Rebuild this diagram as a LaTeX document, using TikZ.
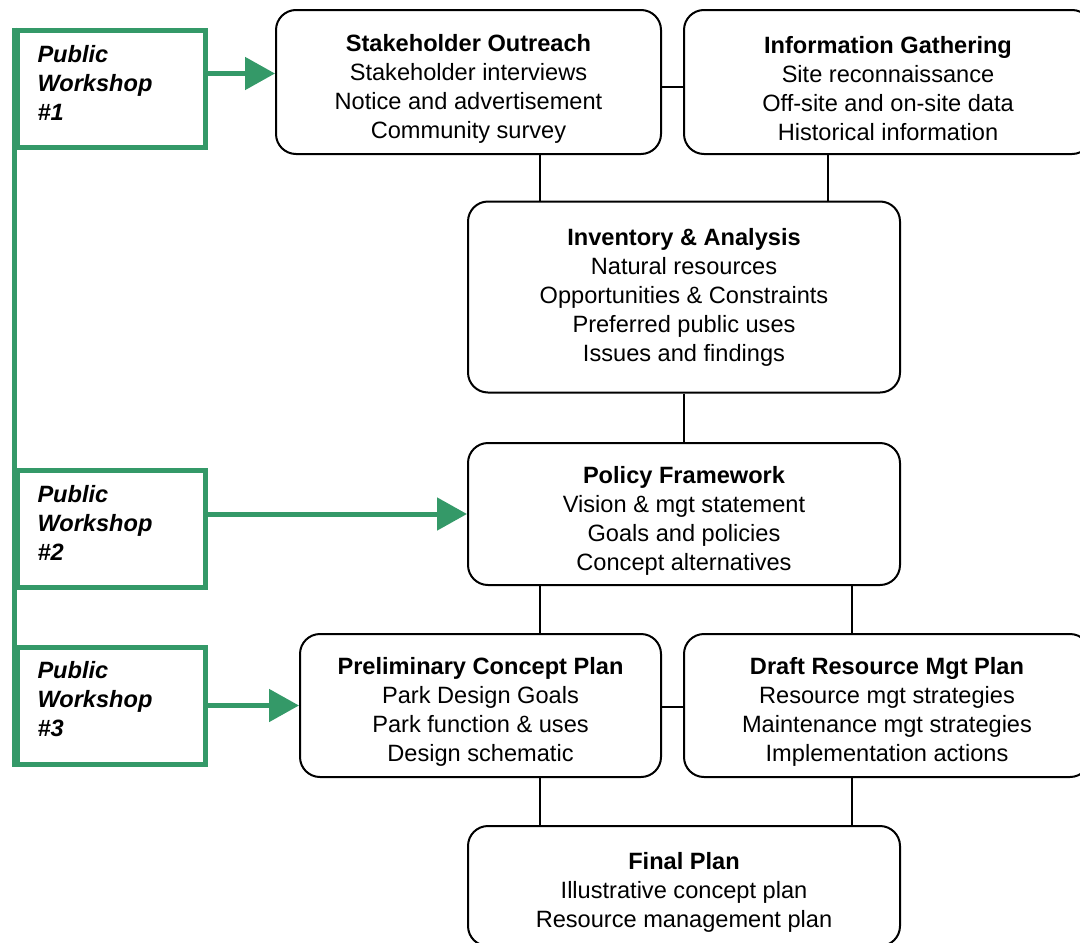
\documentclass[tikz,border=0pt]{standalone}
\usepackage{fontspec}
\setmainfont{Liberation Sans}
\usepackage{tikz}
\usetikzlibrary{positioning, arrows.meta, calc}
\definecolor{ws-green}{RGB}{52,153,104}

% title line of a stage, with a little extra room above
\newcommand{\stagetitle}[1]{\rule{0pt}{15pt}\textbf{#1}}

\tikzset{
  stage/.style={draw, line width=1pt, rounded corners=10pt, align=center,
    font=\fontsize{11.8}{14.5}\selectfont, inner sep=0pt},
  workshop/.style={draw=ws-green, line width=2.5pt, align=left, anchor=north west,
    font=\fontsize{11.8}{14.5}\selectfont\bfseries\itshape,
    minimum width=94pt, minimum height=58.5pt, text width=73.5pt,
    inner xsep=9.75pt, inner ysep=0pt,
    execute at end node={\par\vspace{6pt}}},
  link/.style={line width=0.75pt},
  wsarrow/.style={ws-green, line width=2.5pt, -{Triangle[length=15pt,width=16pt]}}
}

\begin{document}
\begin{tikzpicture}[x=0.5pt, y=-0.5pt]
	\useasboundingbox (0,0) rectangle (1080,942);
	\clip (0,0) rectangle (1080,942);

	% stages
	\node[stage, minimum width=192.5pt, minimum height=72pt] at (468.5,82) (stake)
		{\stagetitle{Stakeholder Outreach}\\Stakeholder interviews\\Notice and advertisement\\Community survey};
	\node[stage, minimum width=204pt, minimum height=72pt] at (888,82) (info)
		{\stagetitle{Information Gathering}\\Site reconnaissance\\Off-site and on-site data\\Historical information};
	\node[stage, minimum width=216pt, minimum height=95.5pt] at (684,297) (inv)
		{\textbf{Inventory \& Analysis}\\Natural resources\\Opportunities \& Constraints\\Preferred public uses\\Issues and findings};
	\node[stage, minimum width=216pt, minimum height=71pt] at (684,514) (pol)
		{\stagetitle{Policy Framework}\\Vision \& mgt statement\\Goals and policies\\Concept alternatives};
	\node[stage, minimum width=180.5pt, minimum height=71.5pt] at (480.5,705.5) (prel)
		{\stagetitle{Preliminary Concept Plan}\\Park Design Goals\\Park function \& uses\\Design schematic};
	\node[stage, minimum width=203pt, minimum height=71.5pt] at (887,705.5) (draft)
		{\stagetitle{Draft Resource Mgt Plan}\\Resource mgt strategies\\Maintenance mgt strategies\\Implementation actions};
	\node[stage, minimum width=216pt, minimum height=60pt] at (684,886) (final)
		{\stagetitle{Final Plan}\\Illustrative concept plan\\Resource management plan};

	% lanes for the vertical links
	\coordinate (laneA) at (540,0);
	\coordinate (laneB) at (828,0);
	\coordinate (laneC) at (852,0);

	\draw[link] ([yshift=-2.5pt]stake.east) -- ([yshift=-2.5pt]info.west);
	\draw[link] (stake.south -| laneA) -- (inv.north -| laneA);
	\draw[link] (info.south -| laneB) -- (inv.north -| laneB);
	\draw[link] (inv.south) -- (pol.north);
	\draw[link] (pol.south -| laneA) -- (prel.north -| laneA);
	\draw[link] (pol.south -| laneC) -- (draft.north -| laneC);
	\draw[link] ([yshift=-0.75pt]prel.east) -- ([yshift=-0.75pt]draft.west);
	\draw[link] (prel.south -| laneA) -- (final.north -| laneA);
	\draw[link] (draft.south -| laneC) -- (final.north -| laneC);

	% public workshops
	\node[workshop] at (14.5,27.5) (ws1) {Public\\Workshop\\\#1};
	\node[workshop] at (14.5,467.5) (ws2) {Public\\Workshop\\\#2};
	\node[workshop] at (14.5,644.5) (ws3) {Public\\Workshop\\\#3};

	\draw[ws-green, line width=2.5pt] (ws1.north west) -- (ws3.south west);

	\draw[wsarrow] ([yshift=7.5pt]ws1.east) -- ([yshift=7.5pt]ws1.east -| stake.west);
	\draw[wsarrow] (ws2.east |- pol.west) -- (pol.west);
	\draw[wsarrow] (ws3.east |- prel.west) -- (prel.west);
\end{tikzpicture}
\end{document}
